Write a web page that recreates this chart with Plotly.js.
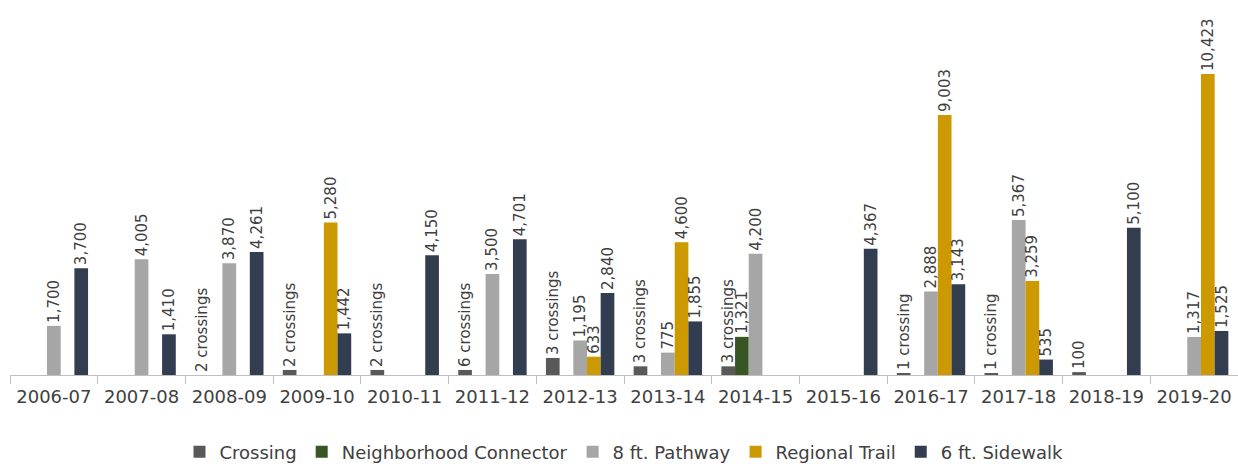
<!DOCTYPE html>
<html>
<head>
<meta charset="utf-8">
<script src="https://cdn.plot.ly/plotly-3.0.1.min.js"></script>
<style>
  body { margin: 0; background: #fff; }
  #chart { width: 1238px; height: 464px; }
</style>
</head>
<body>
<div id="chart"></div>
<script>
const years = ["2006-07", "2007-08", "2008-09", "2009-10", "2010-11", "2011-12", "2012-13",
    "2013-14", "2014-15", "2015-16", "2016-17", "2017-18", "2018-19", "2019-20"];

// crossing bars are drawn small, labels carry the count
const crossing = [null, null, 0, 175, 175, 175, 590, 300, 300, null, 70, 70, 100, null];
const crossingText = ["", "", "2 crossings", "2 crossings", "2 crossings", "6 crossings", "3 crossings",
    "3 crossings", "3 crossings", "", "1 crossing", "1 crossing", "100", ""];
const connector = [null, null, null, null, null, null, null, null, 1321, null, null, null, null, null];
const pathway = [1700, 4005, 3870, null, null, 3500, 1195, 775, 4200, null, 2888, 5367, null, 1317];
const regional = [null, null, null, 5280, null, null, 633, 4600, null, null, 9003, 3259, null, 10423];
const sidewalk = [3700, 1410, 4261, 1442, 4150, 4701, 2840, 1855, null, 4367, 3143, 535, 5100, 1525];

const fontFam = "DejaVu Sans, Verdana, sans-serif";
const labelFont = {family: fontFam, size: 15, color: "#404040"};

function barTrace(name, values, color, text) {
    return {
        type: "bar",
        name: name,
        x: years,
        y: values,
        marker: {color: color},
        text: text || values.map(v => v == null ? "" : v.toLocaleString("en-US")),
        textposition: "outside",
        textangle: -90,
        textfont: labelFont,
        constraintext: "none",
        cliponaxis: false,
        hoverinfo: "x+y+name"
    };
}

const traces = [
    barTrace("Crossing", crossing, "#595959", crossingText),
    barTrace("Neighborhood Connector", connector, "#375623"),
    barTrace("8 ft. Pathway", pathway, "#a6a6a6"),
    barTrace("Regional Trail", regional, "#cc9900"),
    barTrace("6 ft. Sidewalk", sidewalk, "#323d4f")
];

Plotly.newPlot("chart", traces, {
    width: 1238,
    height: 464,
    margin: {l: 10, r: 0, t: 5, b: 89, autoexpand: false},
    paper_bgcolor: "#fff",
    plot_bgcolor: "#fff",
    barmode: "group",
    bargap: 0.22,
    bargroupgap: 0,
    font: {family: fontFam, color: "#404040"},
    xaxis: {
        type: "category",
        showline: true,
        linecolor: "#bfbfbf",
        linewidth: 1,
        ticks: "outside",
        tickson: "boundaries",
        ticklen: 8,
        tickcolor: "#bfbfbf",
        ticklabelstandoff: 5,
        tickfont: {size: 18, color: "#404040"},
        showgrid: false
    },
    yaxis: {
        range: [0, 12811],
        visible: false,
        showgrid: false,
        zeroline: false
    },
    legend: {
        orientation: "h",
        x: 0.5,
        xanchor: "center",
        yref: "container",
        y: 0.026,
        yanchor: "middle",
        font: {size: 18, color: "#404040"},
        itemwidth: 30,
        traceorder: "normal"
    },
    showlegend: true
}, {displayModeBar: false});
</script>
</body>
</html>
